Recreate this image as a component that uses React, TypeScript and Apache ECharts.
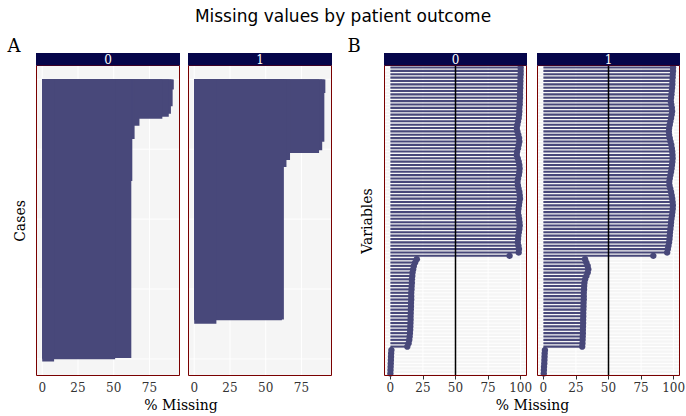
import React, { useEffect, useRef } from 'react';
import * as echarts from 'echarts';

// ---------- text ----------
const chartTitle = 'Missing values by patient outcome';
const outcomeLevels = ['0', '1'];
const panelTags = ['A', 'B'];
const caseAxisTitle = 'Cases';
const variableAxisTitle = 'Variables';
const pctAxisTitle = '% Missing';

// ---------- ticks / reference values ----------
const caseTicks = [0, 25, 50, 75];
const variableTicks = [0, 25, 50, 75, 100];
const caseGridValues = [0, 100, 200, 300, 400];
const referencePct = [50];

// ---------- Panel A: % missing per case (sorted), run-length encoded ----------
const caseRunPct0 = [92.0, 91.2, 90.0, 88.5, 84.0, 68.0, 64.6, 63.0, 62.3, 51.0, 8.3];
const caseRunSize0 = [14, 24, 11, 4, 3, 10, 19, 60, 253, 2, 3];
const caseRunPct1 = [91.7, 91.0, 89.5, 87.3, 67.0, 64.5, 62.7, 61.3, 15.5];
const caseRunSize1 = [19, 70, 12, 4, 10, 10, 218, 1, 5];

// ---------- Panel B: % missing per variable ----------
const variablePct0 = [
  100, 100, 100, 99.8, 99.8, 99.7, 99.7, 99.5, 99.5, 99.5, 99.3, 99.3, 99.0, 99.0,
  98.8, 98.5, 98.0, 97.5, 97.0, 97.5, 98.2, 98.8, 99.0, 98.5, 98.0, 97.3, 97.0, 97.8,
  98.5, 99.0, 99.2, 99.0, 98.6, 98.0, 97.6, 97.9, 98.4, 99.0, 99.3, 99.5, 99.0, 98.7,
  98.3, 98.0, 98.4, 98.8, 99.1, 99.3, 99.0, 98.6, 98.2, 98.0, 97.8, 98.3, 98.7, 98.5,
  91.5,
  20.3, 19.0, 18.0, 17.5, 17.0, 16.8, 16.5, 16.5, 16.3, 16.2, 16.0, 16.0, 16.0, 15.8,
  15.8, 15.7, 15.6, 15.5, 15.5, 15.4, 15.3, 15.2, 15.0, 14.8, 14.5, 14.0, 13.0,
  0.8, 0.6, 0.5, 0.4, 0.3, 0.2, 0.1, 0.0,
];
const variablePct1 = [
  99.5, 99.5, 99.3, 99.2, 99.0, 99.0, 98.8, 98.5, 98.3, 98.0, 97.8, 98.2, 98.6, 98.8,
  98.5, 98.0, 97.5, 97.0, 96.5, 96.3, 96.5, 97.0, 97.6, 98.2, 98.6, 98.9, 99.1, 99.2,
  99.0, 98.7, 98.4, 98.0, 97.5, 97.0, 96.6, 96.8, 97.4, 98.0, 98.5, 98.9, 99.2, 99.4,
  99.3, 99.0, 98.7, 98.3, 98.0, 97.8, 97.5, 97.2, 97.0, 96.8, 96.5, 96.0, 95.5, 95.0,
  84.4,
  32.0, 33.0, 34.0, 34.5, 34.0, 33.0, 32.0, 31.5, 31.3, 31.2, 31.0, 31.0, 31.0, 30.8,
  30.8, 30.7, 30.6, 30.6, 30.5, 30.5, 30.4, 30.3, 30.3, 30.2, 30.1, 30.0, 29.8,
  1.2, 1.0, 0.9, 0.8, 0.7, 0.5, 0.4, 0.3,
];

// ---------- styles / layout ----------
const MARK = '#48487A';
const STRIP = '#05054A';
const BORDER = '#7A0000';
const PANEL_BG = '#F5F5F5';
const SERIF = 'DejaVu Serif';
const PANEL_TOP = 65.5;
const PANEL_H = 310;
const panels = [
  { left: 36.5, width: 143 },
  { left: 188.5, width: 143 },
  { left: 384.5, width: 142 },
  { left: 537.5, width: 142 },
];

function toRuns(pct: number[], size: number[]) {
  let start = 1;
  return pct.map((p, i) => {
    const r = [start, start + size[i] - 1, p];
    start += size[i];
    return r;
  });
}

function vLines(gridIndex: number, values: number[], color: string, width: number, z: number) {
  return {
    type: 'custom',
    xAxisIndex: gridIndex,
    yAxisIndex: gridIndex,
    z,
    silent: true,
    data: values.map((v) => [v]),
    renderItem: (params: any, api: any) => {
      const cs = params.coordSys;
      const x = api.coord([api.value(0), 1])[0];
      return {
        type: 'line',
        shape: { x1: x, y1: cs.y, x2: x, y2: cs.y + cs.height },
        style: { stroke: color, lineWidth: width },
      };
    },
  };
}

function hLines(gridIndex: number, values: number[], color: string, width: number, z: number) {
  return {
    type: 'custom',
    xAxisIndex: gridIndex,
    yAxisIndex: gridIndex,
    z,
    silent: true,
    data: values.map((v) => [0, v]),
    encode: { x: 0, y: 1 },
    renderItem: (params: any, api: any) => {
      const cs = params.coordSys;
      const y = api.coord([0, api.value(1)])[1];
      return {
        type: 'line',
        shape: { x1: cs.x, y1: y, x2: cs.x + cs.width, y2: y },
        style: { stroke: color, lineWidth: width },
      };
    },
  };
}

export default function App() {
  const ref = useRef<HTMLDivElement>(null);

  useEffect(() => {
    if (!ref.current) return;
    const chart = echarts.init(ref.current, undefined, { renderer: 'svg' });

    const runs = [toRuns(caseRunPct0, caseRunSize0), toRuns(caseRunPct1, caseRunSize1)];
    const nCases = Math.max(
      caseRunSize0.reduce((a, b) => a + b, 0),
      caseRunSize1.reduce((a, b) => a + b, 0)
    );
    const casePad = nCases * 0.05;
    const nVars = variablePct0.length;
    const varIdx = variablePct0.map((_, i) => i + 1);
    const varData = [variablePct0, variablePct1];

    const grid = panels.map((p) => ({
      left: p.left,
      top: PANEL_TOP,
      width: p.width,
      height: PANEL_H,
      show: true,
      backgroundColor: PANEL_BG,
      borderWidth: 0,
      containLabel: false,
      outerBoundsMode: 'none',
    }));

    const xAxis = panels.map((_, i) => {
      const isA = i < 2;
      const ticks = isA ? caseTicks : variableTicks;
      return {
        type: 'value',
        gridIndex: i,
        min: isA ? -4 : -4.5,
        max: isA ? 96 : 104.5,
        axisLine: { show: false },
        splitLine: { show: false },
        axisTick: { show: true, customValues: ticks, length: 4, lineStyle: { color: '#333', width: 1 } },
        axisLabel: { customValues: ticks, fontFamily: SERIF, fontSize: 12, color: '#333', margin: 6 },
      };
    });

    const yAxis = panels.map((_, i) => {
      const isA = i < 2;
      return {
        type: 'value',
        gridIndex: i,
        inverse: true,
        min: isA ? 0.5 - casePad : 0.4,
        max: isA ? nCases + 0.5 + casePad : nVars + 0.6,
        show: false,
      };
    });

    const series: any[] = [];
    // Panel A: each run drawn as a rect from the first case down to the run's last case
    // (values decrease downwards, so the union of the rects is the sorted profile, without seams)
    [0, 1].forEach((g) => {
      series.push(vLines(g, caseTicks, '#FFFFFF', 1, 1));
      series.push(hLines(g, caseGridValues, '#FFFFFF', 1, 1));
      series.push({
        type: 'custom',
        xAxisIndex: g,
        yAxisIndex: g,
        z: 2,
        silent: true,
        data: runs[g],
        encode: { x: 2, y: 0 },
        renderItem: (params: any, api: any) => {
          const e = api.value(1) as number;
          const v = api.value(2) as number;
          const a = api.coord([0, 0.5]);
          const b = api.coord([v, e + 0.5]);
          return {
            type: 'rect',
            shape: { x: a[0], y: a[1], width: b[0] - a[0], height: b[1] - a[1] },
            style: { fill: MARK, stroke: null, lineWidth: 0 },
          };
        },
      });
    });
    // Panel B
    [0, 1].forEach((g) => {
      const gi = g + 2;
      const data = varData[g].map((v, i) => [v, varIdx[i]]);
      series.push(vLines(gi, variableTicks, '#FFFFFF', 1, 1));
      series.push(hLines(gi, varIdx, '#FFFFFF', 1, 1));
      series.push({
        type: 'custom',
        xAxisIndex: gi,
        yAxisIndex: gi,
        z: 2,
        silent: true,
        data,
        encode: { x: 0, y: 1 },
        renderItem: (params: any, api: any) => {
          const a = api.coord([0, api.value(1)]);
          const b = api.coord([api.value(0), api.value(1)]);
          return {
            type: 'line',
            shape: { x1: a[0], y1: a[1], x2: b[0], y2: b[1] },
            style: { stroke: MARK, lineWidth: 2.1 },
          };
        },
      });
      series.push({
        type: 'scatter',
        xAxisIndex: gi,
        yAxisIndex: gi,
        z: 3,
        silent: true,
        symbol: 'circle',
        symbolSize: 6.5,
        itemStyle: { color: MARK, opacity: 1 },
        data,
      });
      series.push(vLines(gi, referencePct, '#000000', 1.5, 4));
    });

    const graphic: any[] = [];
    panels.forEach((p, i) => {
      graphic.push({
        type: 'rect',
        z: 100,
        shape: { x: p.left, y: PANEL_TOP, width: p.width, height: PANEL_H },
        style: { fill: 'none', stroke: BORDER, lineWidth: 1 },
        silent: true,
      });
      graphic.push({
        type: 'rect',
        z: 101,
        shape: { x: p.left - 0.5, y: 53, width: p.width + 1, height: 12.5 },
        style: { fill: STRIP },
        silent: true,
      });
      graphic.push({
        type: 'text',
        z: 102,
        x: p.left + p.width / 2,
        y: 59.5,
        silent: true,
        style: {
          text: outcomeLevels[i % 2],
          fill: '#FFFFFF',
          fontSize: 12,
          fontFamily: SERIF,
          align: 'center',
          textAlign: 'center',
          verticalAlign: 'middle',
          textVerticalAlign: 'middle',
        },
      });
    });
    const txt = (x: number, y: number, text: string, size: number, rotation = 0) => ({
      type: 'text',
      x,
      y,
      rotation,
      silent: true,
      style: {
        text,
        fill: '#000000',
        fontSize: size,
        fontFamily: SERIF,
        align: 'center',
        textAlign: 'center',
        verticalAlign: 'middle',
        textVerticalAlign: 'middle',
      },
    });
    graphic.push(txt(14, 45, panelTags[0], 18));
    graphic.push(txt(354, 45, panelTags[1], 18));
    graphic.push(txt(20, 221, caseAxisTitle, 14, Math.PI / 2));
    graphic.push(txt(367, 221, variableAxisTitle, 14, Math.PI / 2));
    graphic.push(txt(181, 405, pctAxisTitle, 14));
    graphic.push(txt(532.5, 405, pctAxisTitle, 14));

    chart.setOption({
      animation: false,
      backgroundColor: '#FFFFFF',
      title: {
        text: chartTitle,
        left: 'center',
        top: 2,
        textStyle: { fontFamily: 'DejaVu Sans', fontSize: 17, fontWeight: 'normal', color: '#000' },
      },
      grid,
      xAxis,
      yAxis,
      series,
      graphic,
    });

    return () => chart.dispose();
  }, []);

  return (
    <div
      ref={ref}
      style={{ position: 'fixed', left: 0, top: 0, width: 686, height: 416, background: '#fff' }}
    />
  );
}
